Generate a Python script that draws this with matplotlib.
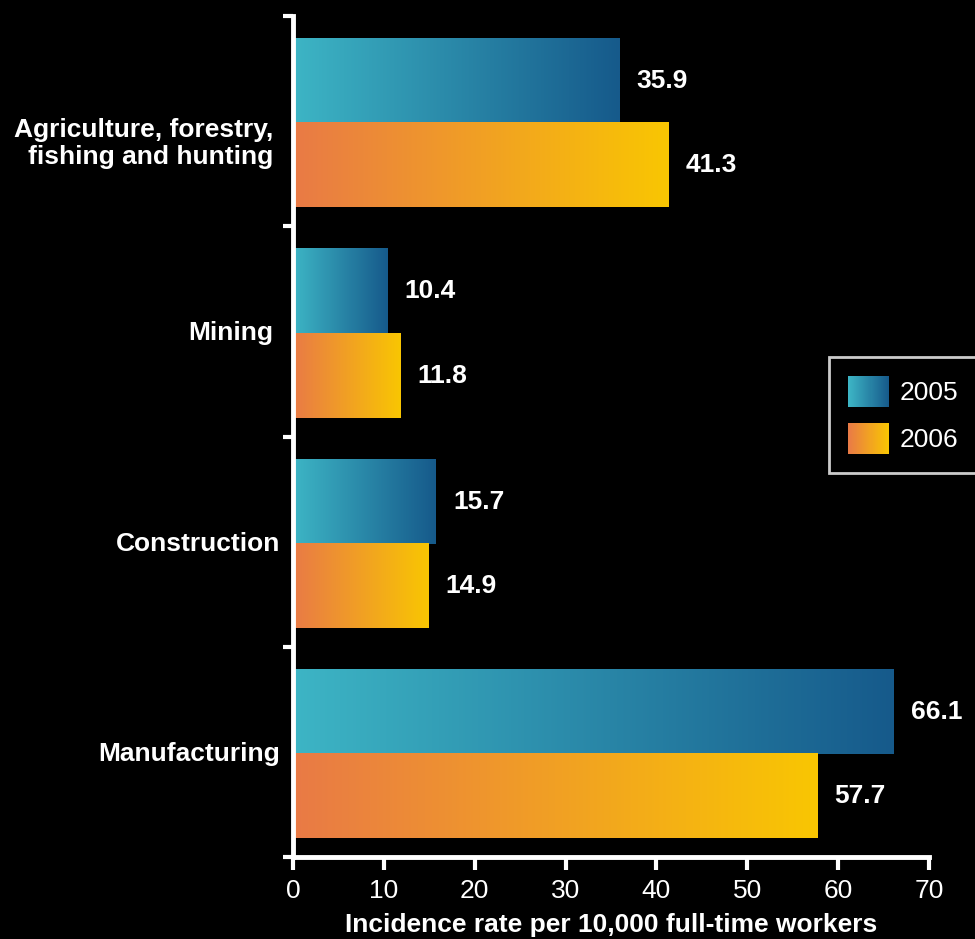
import numpy as np
import matplotlib
matplotlib.use("Agg")
import matplotlib.pyplot as plt
from matplotlib.colors import LinearSegmentedColormap
from matplotlib.patches import Patch, Rectangle
from matplotlib.legend_handler import HandlerPatch

plt.rcParams['font.family'] = ['Liberation Sans', 'DejaVu Sans']

# data
industries = ["Agriculture, forestry,\nfishing and hunting", "Mining", "Construction", "Manufacturing"]
years = ["2005", "2006"]
rate_2005 = [35.9, 10.4, 15.7, 66.1]
rate_2006 = [41.3, 11.8, 14.9, 57.7]
x_ticks = [0, 10, 20, 30, 40, 50, 60, 70]

cmap_2005 = LinearSegmentedColormap.from_list("c05", ["#3db5c5", "#165a8b"])
cmap_2006 = LinearSegmentedColormap.from_list("c06", ["#e97a46", "#f9c602"])
grad = np.linspace(0, 1, 256).reshape(1, -1)
FS = 19

fig = plt.figure(figsize=(9.75, 9.39), dpi=100, facecolor="black")
ax = fig.add_axes([293 / 975, 1 - 857 / 939, (929 - 293) / 975, (857 - 16) / 939])
ax.set_facecolor("black")

y = np.arange(len(industries)) + 0.01
h = 0.4
bars05 = ax.barh(y - h / 2, rate_2005, height=h, color="none", linewidth=0)
bars06 = ax.barh(y + h / 2, rate_2006, height=h, color="none", linewidth=0)

# gradient fill, one full sweep per bar
for bars, cmap in [(bars05, cmap_2005), (bars06, cmap_2006)]:
    for b in bars:
        x0, y0 = b.get_x(), b.get_y()
        w, hh = b.get_width(), b.get_height()
        ax.imshow(grad, cmap=cmap, aspect="auto", extent=(x0, x0 + w, y0 + hh, y0),
                  interpolation="bilinear", zorder=2)

for bars, vals in [(bars05, rate_2005), (bars06, rate_2006)]:
    for b, v in zip(bars, vals):
        ax.text(v + 1.9, b.get_y() + b.get_height() / 2, f"{v:.1f}", color="white",
                fontsize=FS, fontweight="bold", va="center", ha="left")

ax.set_xlim(0, 70)
ax.set_ylim(len(industries) - 0.5, -0.5)

for sp in ["top", "right"]:
    ax.spines[sp].set_visible(False)
for sp in ["left", "bottom"]:
    ax.spines[sp].set_color("white")
    ax.spines[sp].set_linewidth(3.5)
    ax.spines[sp].set_zorder(5)

ax.set_xticks(x_ticks)
ax.set_xticklabels([str(t) for t in x_ticks])
ax.tick_params(axis="x", colors="white", labelsize=FS, length=9, width=3, pad=7, direction="out")
ax.set_yticks(np.arange(len(industries) + 1) - 0.5)
ax.set_yticklabels([])
ax.tick_params(axis="y", colors="white", length=7, width=3, direction="out")

label_x = [-0.031, -0.031, -0.020, -0.020]
for i, name in enumerate(industries):
    dy = 0.105 if "\n" in name else 0.01
    ax.text(label_x[i], i + dy, name, transform=ax.get_yaxis_transform(),
            ha="right", va="center", color="white", fontsize=FS, fontweight="bold",
            multialignment="right", linespacing=1.17)

ax.set_xlabel("Incidence rate per 10,000 full-time workers", color="white",
              fontsize=FS, fontweight="bold", labelpad=7)


class GradHandler(HandlerPatch):
    def __init__(self, cmap):
        super().__init__()
        self.cmap = cmap

    def create_artists(self, legend, orig_handle, xdescent, ydescent, width, height, fontsize, trans):
        arts = []
        n = 40
        for k in range(n):
            r = Rectangle((-xdescent + width * k / n, -ydescent), width / n + 0.3, height,
                          facecolor=self.cmap(k / (n - 1)), edgecolor="none", transform=trans)
            arts.append(r)
        return arts


h05 = Patch(label=years[0])
h06 = Patch(label=years[1])
leg = ax.legend([h05, h06], years, handler_map={h05: GradHandler(cmap_2005), h06: GradHandler(cmap_2006)},
                loc="center left", bbox_to_anchor=(829 / 975, 1 - 415 / 939), bbox_transform=fig.transFigure,
                fontsize=FS, frameon=True, fancybox=False, facecolor="black", edgecolor="white",
                handlelength=1.55, handleheight=1.45, handletextpad=0.42, labelspacing=0.6,
                borderpad=0.72, borderaxespad=0)
leg.get_frame().set_linewidth(2)
for t in leg.get_texts():
    t.set_color("white")

fig.savefig("out.png", dpi=100, facecolor="black")
